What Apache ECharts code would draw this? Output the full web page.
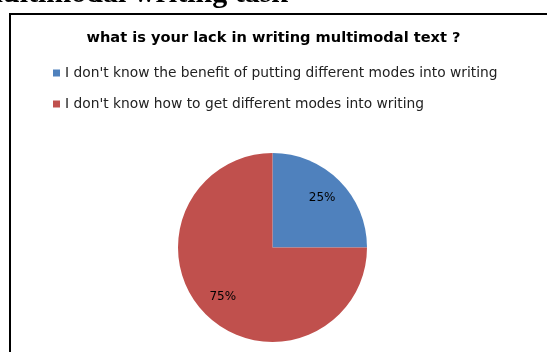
<!DOCTYPE html>
<html>
<head>
<meta charset="utf-8">
<script src="https://cdn.jsdelivr.net/npm/echarts@6/dist/echarts.min.js"></script>
<style>
  html, body { margin: 0; padding: 0; background: #fff; }
  #chart { width: 547px; height: 352px; }
</style>
</head>
<body>
<div id="chart"></div>
<script>
// Survey answers and their shares (percent)
const categories = [
  "I don't know the benefit of putting different modes into writing",
  "I don't know how to get different modes into writing"
];
const shares = [25, 75];
const sliceColors = ['#4F81BD', '#C0504D'];

const chartTitle = 'what is your lack in writing multimodal text ?';
const headingText = 'multimodal writing task';

const pieData = categories.map((name, i) => ({
  name: name,
  value: shares[i],
  itemStyle: { color: sliceColors[i] }
}));

const chart = echarts.init(document.getElementById('chart'), null, { renderer: 'canvas' });

chart.setOption({
  animation: false,
  backgroundColor: '#ffffff',
  title: {
    text: chartTitle,
    left: 'center',
    top: 26,
    textStyle: {
      fontFamily: 'DejaVu Sans',
      fontWeight: 'bold',
      fontSize: 14.6,
      color: '#000'
    }
  },
  legend: {
    orient: 'vertical',
    left: 48,
    top: 61,
    itemWidth: 7,
    itemHeight: 7,
    itemGap: 17,
    icon: 'rect',
    data: categories,
    textStyle: {
      fontFamily: 'DejaVu Sans',
      fontSize: 13.8,
      color: '#222'
    }
  },
  graphic: [
    {
      // page heading above the chart frame, mostly clipped by the top edge
      type: 'text',
      style: {
        x: 288,
        y: 9.5,
        text: headingText,
        align: 'right',
        verticalAlign: 'bottom',
        font: 'bold 30px "Liberation Serif"',
        fill: '#000'
      }
    },
    {
      type: 'polyline',
      shape: { points: [[10, 400], [10, 14], [547, 14]] },
      style: { stroke: '#000', lineWidth: 2, fill: null }
    }
  ],
  series: [
    {
      type: 'pie',
      center: [272.5, 247.5],
      radius: [0, 94.5],
      startAngle: 90,
      clockwise: true,
      data: pieData,
      label: { show: false },
      labelLine: { show: false },
      emphasis: { disabled: true }
    },
    {
      // transparent ring used only to place the percentage labels
      type: 'pie',
      center: [272.5, 247.5],
      radius: [40, 94.5],
      startAngle: 90,
      clockwise: true,
      silent: true,
      data: pieData.map(d => ({ name: d.name, value: d.value })),
      itemStyle: { color: 'rgba(0,0,0,0)' },
      label: {
        show: true,
        position: 'inside',
        formatter: p => p.value + '%',
        fontFamily: 'DejaVu Sans',
        fontSize: 12,
        color: '#000'
      },
      labelLine: { show: false },
      emphasis: { disabled: true }
    }
  ]
});
</script>
</body>
</html>
